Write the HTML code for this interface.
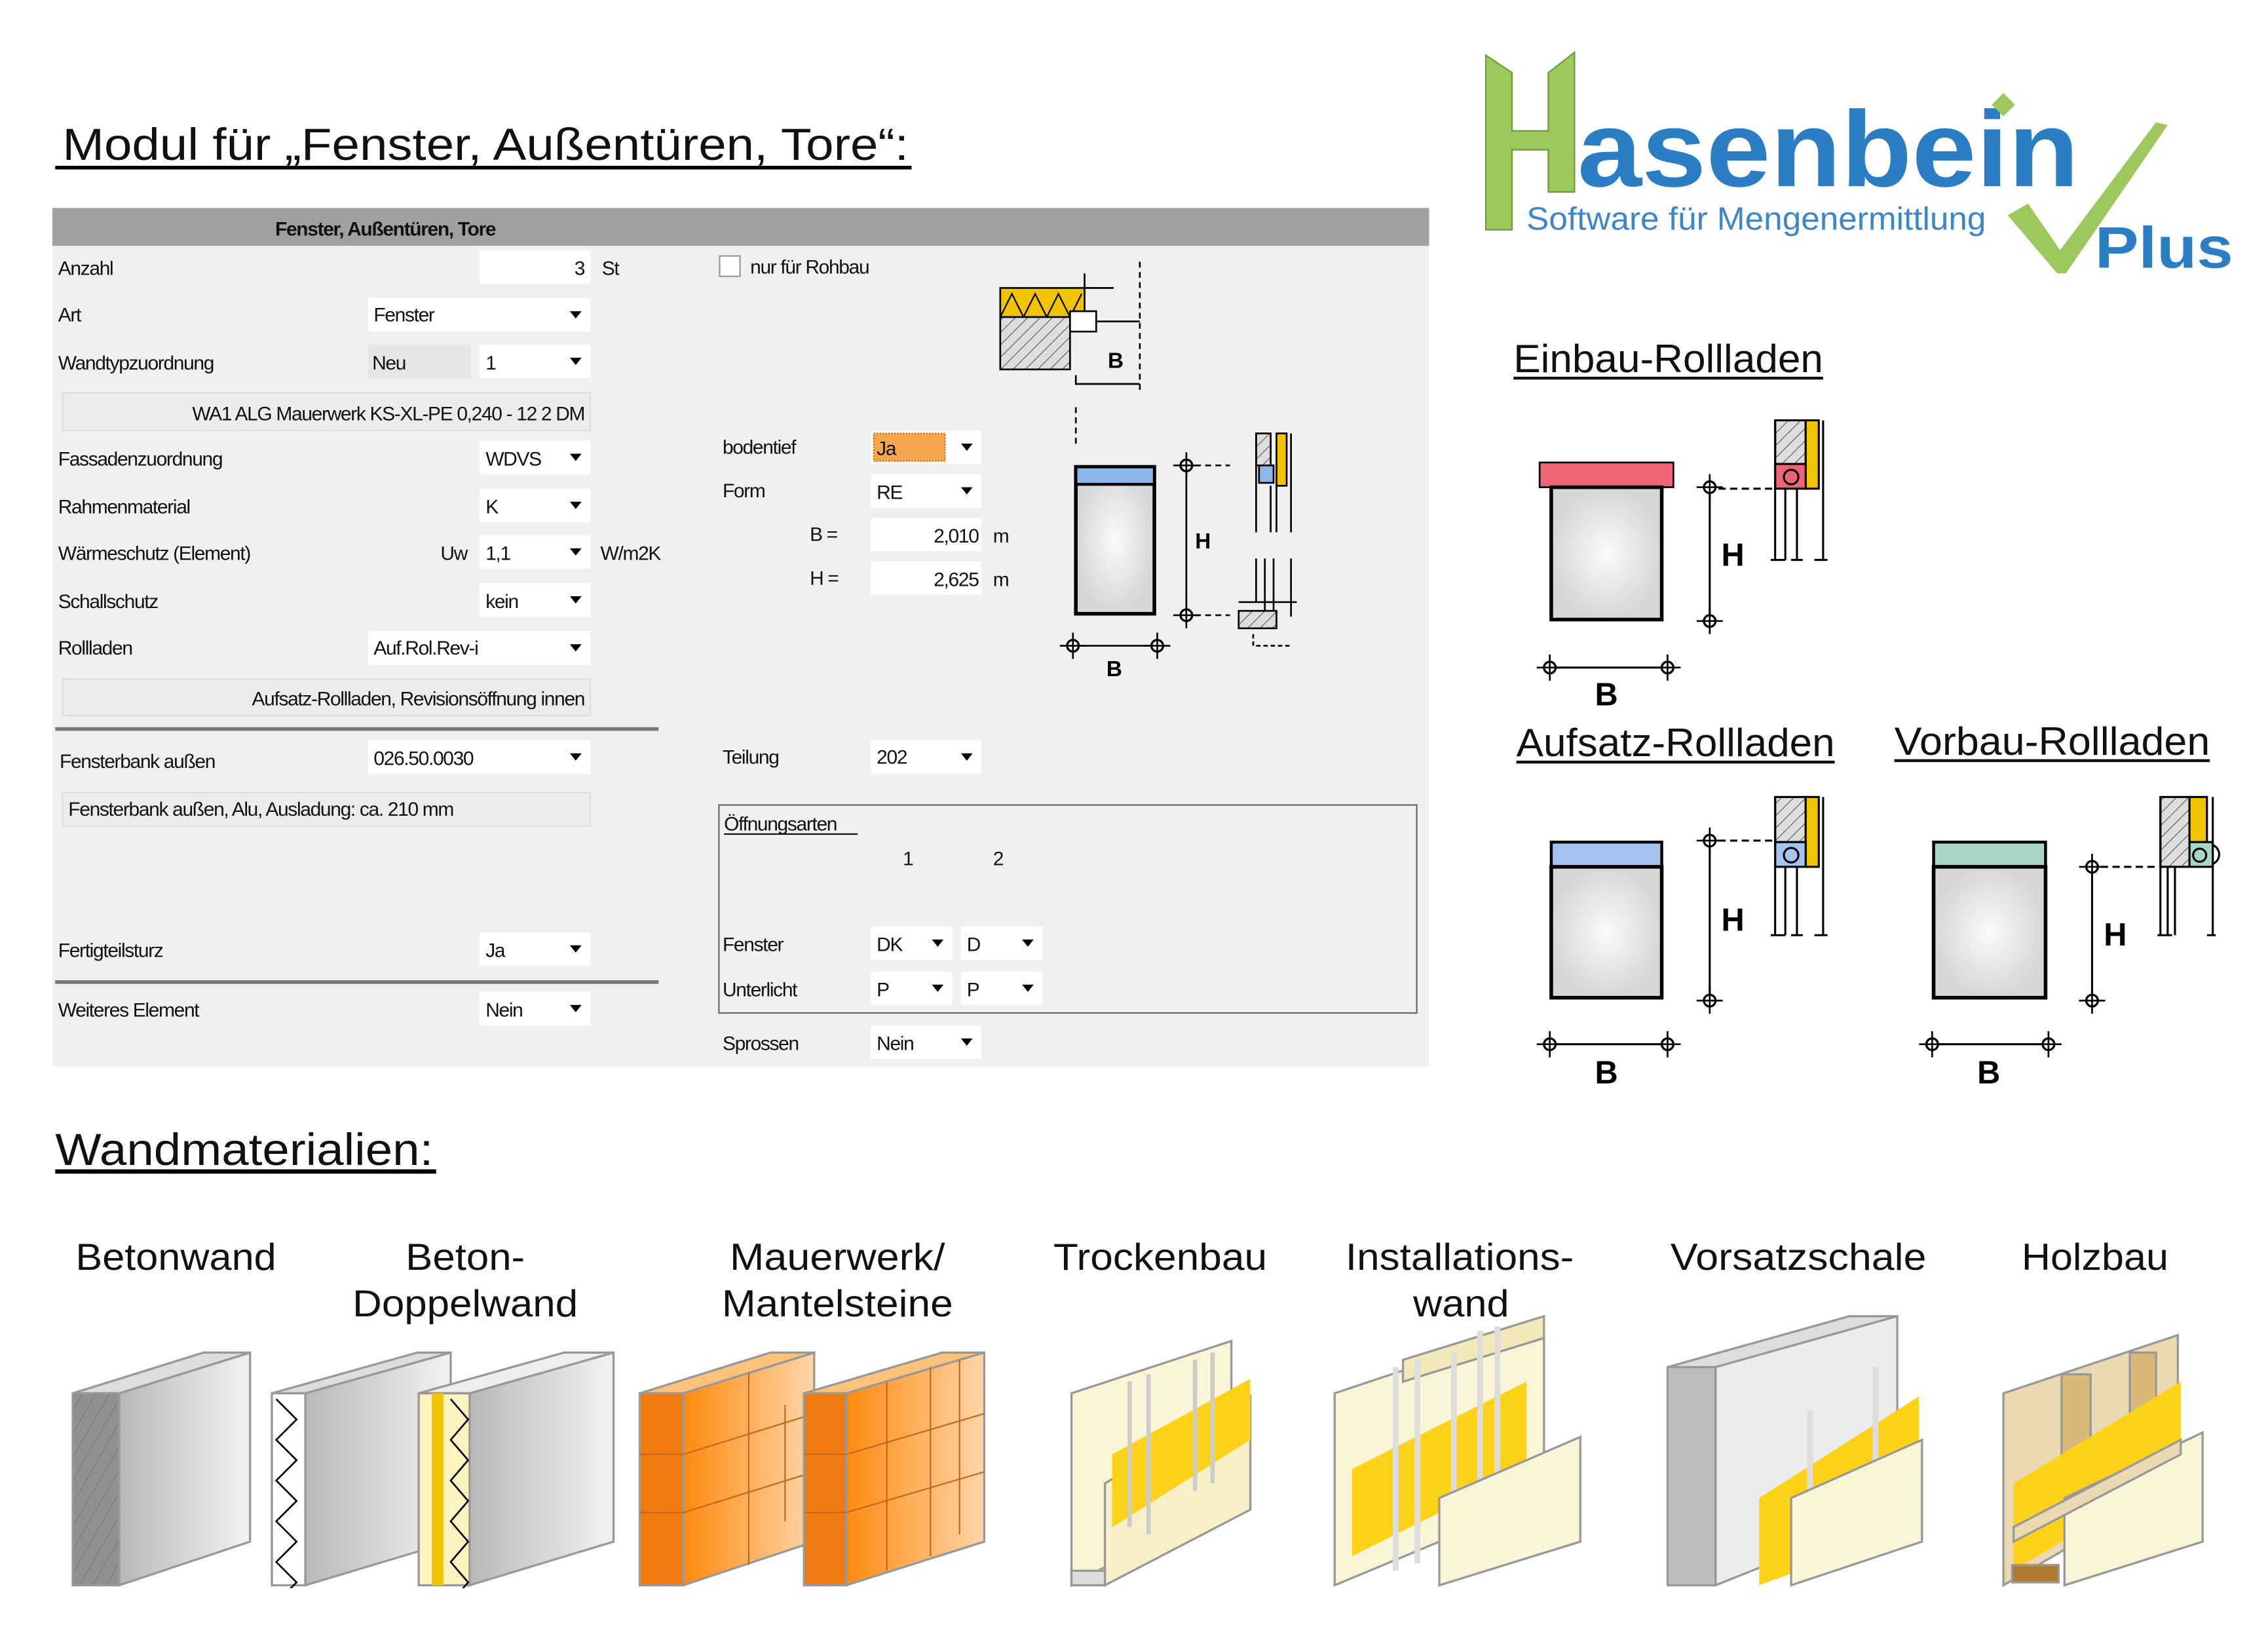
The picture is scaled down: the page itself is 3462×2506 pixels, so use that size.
<!DOCTYPE html>
<html><head><meta charset="utf-8"><style>
html,body{margin:0;padding:0;background:#fff}
svg{display:block}
text{font-family:"Liberation Sans",Arial,sans-serif}
.f{font-size:13.5px;fill:#111;letter-spacing:-0.6px}
.h{font-size:31px;fill:#111}
.w{font-size:26px;fill:#111;text-anchor:middle}
.b{font-weight:bold}
</style></head><body>
<svg width="3462" height="2506" viewBox="0 0 1560 1129" preserveAspectRatio="none" xmlns="http://www.w3.org/2000/svg">
<defs>
<pattern id="hat" width="6" height="6" patternUnits="userSpaceOnUse" patternTransform="rotate(45)"><rect width="6" height="6" fill="#ddd"/><line x1="0" y1="0" x2="0" y2="6" stroke="#555" stroke-width="1"/></pattern>
<pattern id="hat2" width="8" height="8" patternUnits="userSpaceOnUse" patternTransform="rotate(30)"><rect width="8" height="8" fill="#909090"/><line x1="0" y1="0" x2="0" y2="8" stroke="#777" stroke-width="1"/></pattern>
<linearGradient id="gr" x1="0" x2="1"><stop offset="0" stop-color="#b8b8b8"/><stop offset="1" stop-color="#f2f2f2"/></linearGradient>
<linearGradient id="or" x1="0" x2="1"><stop offset="0" stop-color="#ff8a10"/><stop offset="1" stop-color="#ffd6a8"/></linearGradient>
<radialGradient id="gl"><stop offset="0" stop-color="#fafafa"/><stop offset="1" stop-color="#d6d6d6"/></radialGradient>
<g id="dd"><rect x="0" y="0" width="76" height="23" fill="#fff"/><path d="M62 9h8l-4 5z" fill="#000"/></g>
<g id="mk"><circle r="4" fill="#fff" stroke="#000" stroke-width="1.5"/><line x1="-9" y1="0" x2="9" y2="0" stroke="#000" stroke-width="1.2"/><line x1="0" y1="-9" x2="0" y2="9" stroke="#000" stroke-width="1.2"/></g>
<clipPath id="cw"><rect x="0" y="900" width="1560" height="192"/></clipPath>
</defs>

<text x="43" y="110" class="h" textLength="582" lengthAdjust="spacingAndGlyphs">Modul für „Fenster, Außentüren, Tore“:</text>
<rect x="38" y="114" width="589" height="2.5" fill="#000"/>

<rect x="36" y="143" width="947" height="590" fill="#f0f0f0"/>
<rect x="36" y="143" width="947" height="26" fill="#a0a0a0"/>
<text x="265" y="162" class="f b" text-anchor="middle">Fenster, Außentüren, Tore</text>

<text x="40" y="189" class="f">Anzahl</text>
<rect x="330" y="172" width="76" height="23" fill="#fff"/><text x="402" y="189" class="f" text-anchor="end">3</text><text x="414" y="189" class="f">St</text>
<text x="40" y="221" class="f">Art</text>
<rect x="253" y="205" width="153" height="23" fill="#fff"/><path d="M392 214h8l-4 5z"/><text x="257" y="221" class="f">Fenster</text>
<text x="40" y="254" class="f">Wandtypzuordnung</text>
<rect x="253" y="237" width="71" height="23" fill="#e6e6e6"/><text x="256" y="254" class="f">Neu</text>
<use href="#dd" x="330" y="237"/><text x="334" y="254" class="f">1</text>
<rect x="43" y="270" width="363" height="26" fill="#ececec" stroke="#ddd"/><text x="402" y="289" class="f" text-anchor="end">WA1 ALG Mauerwerk KS-XL-PE 0,240 - 12 2 DM</text>
<text x="40" y="320" class="f">Fassadenzuordnung</text><use href="#dd" x="330" y="303"/><text x="334" y="320" class="f">WDVS</text>
<text x="40" y="353" class="f">Rahmenmaterial</text><use href="#dd" x="330" y="336"/><text x="334" y="353" class="f">K</text>
<text x="40" y="385" class="f">Wärmeschutz (Element)</text><text x="303" y="385" class="f">Uw</text><use href="#dd" x="330" y="368"/><text x="334" y="385" class="f">1,1</text><text x="413" y="385" class="f">W/m2K</text>
<text x="40" y="418" class="f">Schallschutz</text><use href="#dd" x="330" y="401"/><text x="334" y="418" class="f">kein</text>
<text x="40" y="450" class="f">Rollladen</text><rect x="253" y="434" width="153" height="23" fill="#fff"/><path d="M392 443h8l-4 5z"/><text x="257" y="450" class="f">Auf.Rol.Rev-i</text>
<rect x="43" y="467" width="363" height="25" fill="#ececec" stroke="#ddd"/><text x="402" y="485" class="f" text-anchor="end">Aufsatz-Rollladen, Revisionsöffnung innen</text>
<rect x="38" y="500" width="415" height="2.5" fill="#777"/>
<text x="41" y="528" class="f">Fensterbank außen</text><rect x="253" y="509" width="153" height="23" fill="#fff"/><path d="M392 518h8l-4 5z"/><text x="257" y="526" class="f">026.50.0030</text>
<rect x="43" y="545" width="363" height="23" fill="#ececec" stroke="#ddd"/><text x="47" y="561" class="f">Fensterbank außen, Alu, Ausladung: ca. 210 mm</text>
<text x="40" y="658" class="f">Fertigteilsturz</text><use href="#dd" x="330" y="641"/><text x="334" y="658" class="f">Ja</text>
<rect x="38" y="674" width="415" height="2.5" fill="#777"/>
<text x="40" y="699" class="f">Weiteres Element</text><use href="#dd" x="330" y="682"/><text x="334" y="699" class="f">Nein</text>

<rect x="495" y="176" width="14" height="14" fill="#fff" stroke="#999"/><text x="516" y="188" class="f">nur für Rohbau</text>
<text x="497" y="312" class="f">bodentief</text><use href="#dd" x="599" y="296"/><rect x="601" y="298" width="49" height="19" fill="#f7a650" stroke="#c60" stroke-dasharray="1 1"/><text x="603" y="313" class="f">Ja</text>
<text x="497" y="342" class="f">Form</text><use href="#dd" x="599" y="326"/><text x="603" y="343" class="f">RE</text>
<text x="557" y="372" class="f">B =</text><rect x="599" y="356" width="76" height="23" fill="#fff"/><text x="673" y="373" class="f" text-anchor="end">2,010</text><text x="683" y="373" class="f">m</text>
<text x="557" y="402" class="f">H =</text><rect x="599" y="386" width="76" height="23" fill="#fff"/><text x="673" y="403" class="f" text-anchor="end">2,625</text><text x="683" y="403" class="f">m</text>
<text x="497" y="525" class="f">Teilung</text><use href="#dd" x="599" y="509"/><text x="603" y="525" class="f">202</text>
<rect x="494.5" y="553.5" width="480" height="143" fill="none" stroke="#666"/>
<text x="498" y="571" class="f">Öffnungsarten</text><rect x="498" y="573" width="92" height="1" fill="#111"/>
<text x="621" y="595" class="f">1</text><text x="683" y="595" class="f">2</text>
<text x="497" y="654" class="f">Fenster</text><rect x="599" y="637" width="56" height="23" fill="#fff"/><path d="M641 646h8l-4 5z"/><text x="603" y="654" class="f">DK</text><rect x="661" y="637" width="56" height="23" fill="#fff"/><path d="M703 646h8l-4 5z"/><text x="665" y="654" class="f">D</text>
<text x="497" y="685" class="f">Unterlicht</text><rect x="599" y="668" width="56" height="23" fill="#fff"/><path d="M641 677h8l-4 5z"/><text x="603" y="685" class="f">P</text><rect x="661" y="668" width="56" height="23" fill="#fff"/><path d="M703 677h8l-4 5z"/><text x="665" y="685" class="f">P</text>
<text x="497" y="722" class="f">Sprossen</text><use href="#dd" x="599" y="705"/><text x="603" y="722" class="f">Nein</text>

<g stroke="#000" stroke-width="1.2">
<rect x="688" y="198" width="58" height="20" fill="#f2c400"/>
<path d="M688 218l8-16 8 16 8-16 8 16 8-16 8 16 8-16" fill="none" stroke-width="1"/>
<rect x="688" y="218" width="48" height="36" fill="url(#hat)"/>
<rect x="736" y="214" width="18" height="14" fill="#fff"/>
<path d="M746 188v10h20M754 221h30M740 258v6h44" fill="none"/>
<path d="M784 180v88M740 280v26" fill="none" stroke-dasharray="4 3"/>
<rect x="740" y="321" width="54" height="101" fill="url(#gl)" stroke-width="2.5"/>
<rect x="740" y="321" width="54" height="12" fill="#8db6ea" stroke-width="2"/>
<path d="M816 319v106M737 444h60" fill="none"/>
<path d="M822 320h24M822 423h24" stroke-dasharray="4 3" fill="none"/>
<rect x="864" y="298" width="10" height="22" fill="url(#hat)"/><rect x="878" y="298" width="7" height="36" fill="#f2c400"/>
<rect x="866" y="320" width="10" height="12" fill="#8db6ea"/>
<path d="M864 298v68M874 334v32M878 334v32M888 298v68M864 384v30M870 384v40M876 384v40M888 384v40M852 414h40" fill="none"/>
<rect x="852" y="420" width="26" height="12" fill="url(#hat)"/>
<path d="M862 436v8h26" fill="none" stroke-dasharray="3 2"/>
</g>
<use href="#mk" x="816" y="320"/><use href="#mk" x="816" y="423"/><use href="#mk" x="738" y="444"/><use href="#mk" x="796" y="444"/>
<text x="761" y="465" class="b" font-size="15">B</text><text x="822" y="377" class="b" font-size="15">H</text><text x="762" y="253" class="b" font-size="15">B</text>

<!-- Logo -->
<path d="M1022 38l18 12v40h25V50l18-14v96h-18v-29h-25v55h-18z" fill="#9dc85d" stroke="#6a9a3a" stroke-width="1"/>
<text x="1085" y="128" font-size="74" font-weight="bold" fill="#2b7dc4" textLength="345" lengthAdjust="spacingAndGlyphs">asenbein</text>
<path d="M1370 72l8-8 8 8-8 8z" fill="#9dc85d"/>
<text x="1050" y="158" font-size="22" fill="#3a87cc" textLength="316" lengthAdjust="spacingAndGlyphs">Software für Mengenermittlung</text>
<path d="M1381 148l14-8 22 32 66-88 8 2-70 102h-6z" fill="#9dc85d"/>
<text x="1441" y="184" font-size="40" font-weight="bold" fill="#2b7dc4" textLength="95" lengthAdjust="spacingAndGlyphs">Plus</text>

<text x="1041" y="256" font-size="27" fill="#111" textLength="213" lengthAdjust="spacingAndGlyphs">Einbau-Rollladen</text><rect x="1041" y="259" width="213" height="2" fill="#111"/>
<text x="1043" y="520" font-size="27" fill="#111" textLength="219" lengthAdjust="spacingAndGlyphs">Aufsatz-Rollladen</text><rect x="1043" y="523" width="219" height="2" fill="#111"/>
<text x="1303" y="519" font-size="27" fill="#111" textLength="217" lengthAdjust="spacingAndGlyphs">Vorbau-Rollladen</text><rect x="1303" y="522" width="217" height="2" fill="#111"/>
<g stroke="#000" stroke-width="1.4">
<rect x="1059" y="318" width="92" height="17" fill="#ee6476" stroke-width="1.2"/>
<rect x="1067" y="335" width="76" height="91" fill="url(#gl)" stroke-width="2.5"/>
<rect x="1067" y="579" width="76" height="17" fill="#a4c3ee" stroke-width="2"/>
<rect x="1067" y="596" width="76" height="90" fill="url(#gl)" stroke-width="2.5"/>
<rect x="1330" y="579" width="77" height="17" fill="#a9d5c8" stroke-width="2"/>
<rect x="1330" y="596" width="77" height="90" fill="url(#gl)" stroke-width="2.5"/>
<path d="M1176 333v96M1065 459h84M1176 577v112M1065 718h84M1439 595v94M1327 718h84" fill="none"/>
<path d="M1182 336h38M1182 578h38M1445 596h40" fill="none" stroke-dasharray="5 3"/>
<rect x="1221" y="289" width="21" height="30" fill="url(#hat)"/><rect x="1242" y="289" width="9" height="47" fill="#f2c400"/>
<rect x="1221" y="319" width="21" height="17" fill="#ee6476"/><circle cx="1232" cy="328" r="5" fill="none"/>
<path d="M1221 289v96M1254 289v96M1228 336v49M1236 336v49M1218 385h10M1232 385h8M1248 385h9" fill="none"/>
<rect x="1221" y="548" width="21" height="31" fill="url(#hat)"/><rect x="1242" y="548" width="9" height="48" fill="#f2c400"/>
<rect x="1221" y="579" width="21" height="17" fill="#a4c3ee"/><circle cx="1232" cy="588" r="5" fill="none"/>
<path d="M1221 548v95M1254 548v95M1228 596v47M1236 596v47M1218 643h10M1232 643h8M1248 643h9" fill="none"/>
<rect x="1486" y="548" width="20" height="48" fill="url(#hat)"/><rect x="1506" y="548" width="12" height="31" fill="#f2c400"/>
<rect x="1506" y="579" width="16" height="17" fill="#a9d5c8"/><circle cx="1513" cy="588" r="4.5" fill="none"/>
<path d="M1486 548v95M1522 548v95M1491 596v47M1496 596v47M1484 643h10M1518 643h6M1522 581a7 7 0 0 1 0 13" fill="none"/>
</g>
<use href="#mk" x="1176" y="335"/><use href="#mk" x="1176" y="427"/><use href="#mk" x="1066" y="459"/><use href="#mk" x="1147" y="459"/>
<use href="#mk" x="1176" y="578"/><use href="#mk" x="1176" y="688"/><use href="#mk" x="1066" y="718"/><use href="#mk" x="1147" y="718"/>
<use href="#mk" x="1439" y="596"/><use href="#mk" x="1439" y="688"/><use href="#mk" x="1329" y="718"/><use href="#mk" x="1409" y="718"/>
<text x="1184" y="389" font-size="22" font-weight="bold">H</text><text x="1097" y="485" font-size="22" font-weight="bold">B</text>
<text x="1184" y="640" font-size="22" font-weight="bold">H</text><text x="1097" y="745" font-size="22" font-weight="bold">B</text>
<text x="1447" y="650" font-size="22" font-weight="bold">H</text><text x="1360" y="745" font-size="22" font-weight="bold">B</text>

<text x="38" y="801" class="h" textLength="260" lengthAdjust="spacingAndGlyphs">Wandmaterialien:</text><rect x="38" y="804" width="262" height="3" fill="#000"/>
<text x="121" y="873" class="w" textLength="138" lengthAdjust="spacingAndGlyphs">Betonwand</text>
<text x="320" y="873" class="w" textLength="82" lengthAdjust="spacingAndGlyphs">Beton-</text><text x="320" y="905" class="w" textLength="155" lengthAdjust="spacingAndGlyphs">Doppelwand</text>
<text x="576" y="873" class="w" textLength="148" lengthAdjust="spacingAndGlyphs">Mauerwerk/</text><text x="576" y="905" class="w" textLength="159" lengthAdjust="spacingAndGlyphs">Mantelsteine</text>
<text x="798" y="873" class="w" textLength="147" lengthAdjust="spacingAndGlyphs">Trockenbau</text>
<text x="1004" y="873" class="w" textLength="157" lengthAdjust="spacingAndGlyphs">Installations-</text><text x="1005" y="905" class="w" textLength="66" lengthAdjust="spacingAndGlyphs">wand</text>
<text x="1237" y="873" class="w" textLength="176" lengthAdjust="spacingAndGlyphs">Vorsatzschale</text>
<text x="1441" y="873" class="w" textLength="101" lengthAdjust="spacingAndGlyphs">Holzbau</text>

<g stroke="#999" stroke-width="1.5" clip-path="url(#cw)">
<polygon points="82,958 172,930 172,1060 82,1090" fill="url(#gr)"/>
<polygon points="50,958 140,930 172,930 82,958" fill="#ddd"/>
<rect x="50" y="958" width="32" height="132" fill="url(#hat2)"/>
<polygon points="210,958 310,930 310,1060 210,1090" fill="url(#gr)"/>
<polygon points="187,958 287,930 310,930 210,958" fill="#ddd"/>
<rect x="187" y="958" width="23" height="132" fill="#fff"/>
<path d="M190 962l14 14-14 14 14 14-14 14 14 14-14 14 14 14-14 14 14 14-14 14" fill="none" stroke="#000" stroke-width="1.2"/>
<polygon points="323,958 422,930 422,1060 323,1090" fill="url(#gr)"/>
<polygon points="288,958 388,930 422,930 323,958" fill="#eee"/>
<rect x="288" y="958" width="35" height="132" fill="#fff4c0"/>
<rect x="297" y="958" width="8" height="132" fill="#f2c400" stroke="none"/>
<path d="M310 962l12 14-12 14 12 14-12 14 12 14-12 14 12 14-12 14 12 14-12 14" fill="none" stroke="#000" stroke-width="1.2"/>
<polygon points="470,958 560,930 560,1060 470,1090" fill="url(#or)"/>
<polygon points="440,958 530,930 560,930 470,958" fill="#ffc27a"/>
<rect x="440" y="958" width="30" height="132" fill="#f07a10"/>
<path d="M470 1000l90-28M470 1040l90-28M440 1000h30M440 1040h30M515 944v132M540 966v80" fill="none" stroke="#c06a20" stroke-width="1"/>
<polygon points="582,958 677,930 677,1060 582,1090" fill="url(#or)"/>
<polygon points="553,958 648,930 677,930 582,958" fill="#ffc27a"/>
<rect x="553" y="958" width="29" height="132" fill="#f07a10"/>
<path d="M582 1000l95-28M582 1040l95-28M553 1000h29M553 1040h29M610 950v130M640 940v130M660 935v120" fill="none" stroke="#c06a20" stroke-width="1"/>
<polygon points="737,958 847,922 847,1030 737,1090" fill="#fbf5d8"/>
<polygon points="760,1020 860,960 860,1038 760,1090" fill="#f9f0c8"/>
<polygon points="765,1000 860,948 860,990 765,1050" fill="#ffd21a" stroke="none"/>
<path d="M777 950v100M790 945v110M822 935v90M834 930v90" stroke="#ccc" stroke-width="3" fill="none"/>
<polygon points="737,1080 760,1080 760,1090 737,1090" fill="#ddd"/>
<polygon points="918,958 1062,910 1062,1030 918,1090" fill="#fbf5d8"/>
<polygon points="965,935 1062,905 1062,920 965,950" fill="#f3e8b8"/>
<polygon points="930,1010 1050,950 1050,1010 930,1070" fill="#ffd21a" stroke="none"/>
<path d="M960 940v140M975 935v140M1000 930v130M1018 915v120M1030 912v110" stroke="#ddd" stroke-width="4" fill="none"/>
<polygon points="990,1030 1087,988 1087,1060 990,1090" fill="#fbf5d8"/>
<polygon points="1147,940 1272,905 1305,905 1180,940" fill="#ddd"/>
<polygon points="1180,940 1305,905 1305,1040 1180,1090" fill="#ececec"/>
<rect x="1147" y="940" width="33" height="150" fill="#bdbdbd"/>
<polygon points="1210,1030 1320,960 1320,1050 1210,1090" fill="#ffd21a" stroke="none"/>
<path d="M1245 970v110M1290 940v90" stroke="#ddd" stroke-width="4" fill="none"/>
<polygon points="1232,1030 1322,990 1322,1060 1232,1090" fill="#fbf5d8"/>
<polygon points="1378,958 1498,918 1498,1020 1378,1090" fill="#ead8b0"/>
<rect x="1418" y="945" width="20" height="110" fill="#d8b878"/><rect x="1465" y="930" width="18" height="100" fill="#d8b878"/>
<polygon points="1385,1020 1500,950 1500,1010 1385,1080" fill="#ffd21a" stroke="none"/>
<polygon points="1420,1030 1515,985 1515,1060 1420,1090" fill="#fbf5d8"/>
<polygon points="1385,1050 1500,990 1500,1000 1385,1060" fill="#ead8b0"/>
<rect x="1384" y="1076" width="32" height="12" fill="#b07a30"/>
</g>
</svg>
</body></html>
